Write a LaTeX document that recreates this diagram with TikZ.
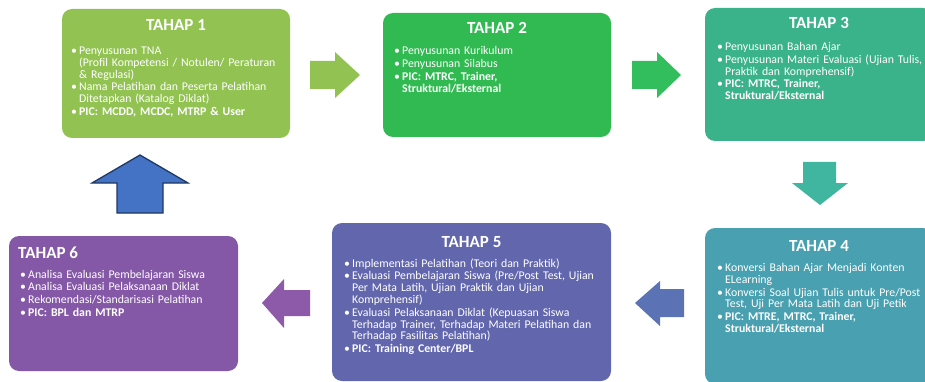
\documentclass[tikz,border=0pt]{standalone}
\usepackage{fontspec}
\setmainfont{Carlito}
\usetikzlibrary{positioning}
\definecolor{tahapA}{RGB}{146,195,82}
\definecolor{tahapB}{RGB}{50,186,82}
\definecolor{tahapC}{RGB}{58,178,138}
\definecolor{tahapD}{RGB}{72,160,176}
\definecolor{tahapE}{RGB}{98,102,172}
\definecolor{tahapF}{RGB}{132,88,166}
\definecolor{panahB}{RGB}{50,190,92}
\definecolor{panahC}{RGB}{64,182,160}
\definecolor{panahD}{RGB}{91,114,180}
\definecolor{panahE}{RGB}{141,90,170}
\definecolor{panahUp}{RGB}{68,114,196}
\definecolor{garisUp}{RGB}{31,56,100}
\newcommand{\itm}{\par\hangindent=8pt\hangafter=1\noindent\makebox[8pt][l]{\textbullet}}

\begin{document}
\begin{tikzpicture}[
    x=1pt, y=-1pt,
    tahap/.style={
        rectangle, rounded corners=10pt, draw=none,
        minimum width=228pt, inner sep=0pt
    },
    judul/.style={
        font=\fontsize{17}{19}\selectfont\bfseries,
        text=white, inner sep=0pt
    },
    isi/.style={
        anchor=north west, inner sep=0pt, text=white,
        text width=234pt, align=left,
        font=\fontsize{11.8}{11.8}\selectfont\setlength{\parskip}{1pt}
    },
]
\useasboundingbox (0,0) rectangle (925,382);
\clip (0,0) rectangle (925,382);

% Baris atas
\node[tahap, fill=tahapA, minimum height=129pt] (t1) at (176,73.5) {};
\node[tahap, fill=tahapB, minimum height=124pt] (t2) at (497,75) {};
\node[tahap, fill=tahapC, minimum height=133pt] (t3) at (819,74.5) {};

% Baris bawah
\node[tahap, fill=tahapD, minimum height=156pt] (t4) at (819,306) {};
\node[tahap, fill=tahapE, minimum width=279pt, minimum height=158pt] (t5) at (471.5,302) {};
\node[tahap, fill=tahapF, minimum width=229pt, minimum height=135pt] (t6) at (123.5,303.5) {};

% Judul
\node[judul] (j1) at ([yshift=-16pt]t1.north) {TAHAP 1};
\node[judul] (j2) at ([yshift=-15pt]t2.north) {TAHAP 2};
\node[judul] (j3) at ([yshift=-15pt]t3.north) {TAHAP 3};
\node[judul] (j4) at ([yshift=-18pt]t4.north) {TAHAP 4};
\node[judul] (j5) at ([yshift=-19pt]t5.north) {TAHAP 5};
\node[judul, anchor=west] (j6) at (18,253) {TAHAP 6};

% Isi
\node[isi] (i1) at (71,41.5) {%
  \itm Penyusunan TNA\newline(Profil Kompetensi / Notulen/ Peraturan\newline\& Regulasi)
  \itm Nama Pelatihan dan Peserta Pelatihan\newline Ditetapkan (Katalog Diklat)
  \itm \textbf{PIC: MCDD, MCDC, MTRP \& User}\par};
\node[isi] (i2) at (394,42) {%
  \itm Penyusunan Kurikulum
  \itm Penyusunan Silabus
  \itm \textbf{PIC: MTRC, Trainer,\newline Struktural/Eksternal}\par};
\node[isi] (i3) at (717,37.5) {%
  \itm Penyusunan Bahan Ajar
  \itm Penyusunan Materi Evaluasi (Ujian Tulis,\newline Praktik dan Komprehensif)
  \itm \textbf{PIC: MTRC, Trainer,\newline Struktural/Eksternal}\par};
\node[isi] (i4) at (717,258.5) {%
  \itm Konversi Bahan Ajar Menjadi Konten\newline ELearning
  \itm Konversi Soal Ujian Tulis untuk Pre/Post\newline Test, Uji Per Mata Latih dan Uji Petik
  \itm \textbf{PIC: MTRE, MTRC, Trainer,\newline Struktural/Eksternal}\par};
\node[isi, text width=272pt] (i5) at (344,254) {%
  \itm Implementasi Pelatihan (Teori dan Praktik)
  \itm Evaluasi Pembelajaran Siswa (Pre/Post Test, Ujian\newline Per Mata Latih, Ujian Praktik dan Ujian\newline Komprehensif)
  \itm Evaluasi Pelaksanaan Diklat (Kepuasan Siswa\newline Terhadap Trainer, Terhadap Materi Pelatihan dan\newline Terhadap Fasilitas Pelatihan)
  \itm \textbf{PIC: Training Center/BPL}\par};
\node[isi] (i6) at (20,265) {%
  \itm Analisa Evaluasi Pembelajaran Siswa
  \itm Analisa Evaluasi Pelaksanaan Diklat
  \itm Rekomendasi/Standarisasi Pelatihan
  \itm \textbf{PIC: BPL dan MTRP}\par};

% Panah
\fill[tahapA] (310,61) -- (335,61) -- (335,52) -- (360,75) -- (335,98) -- (335,89) -- (310,89) -- cycle;
\fill[panahB] (632,61) -- (657,61) -- (657,52) -- (681,75) -- (657,98) -- (657,89) -- (632,89) -- cycle;
\fill[panahC] (803,162) -- (836,162) -- (836,183) -- (848,183) -- (820,205) -- (792,183) -- (803,183) -- cycle;
\fill[panahD] (684,289) -- (660,289) -- (660,281) -- (635,303) -- (660,326) -- (660,317) -- (684,317) -- cycle;
\fill[panahE] (310,290) -- (284,290) -- (284,279) -- (262,303) -- (284,328) -- (284,316) -- (310,316) -- cycle;
\filldraw[fill=panahUp, draw=garisUp, line width=1.3pt, line join=miter]
    (117,213) -- (117,183) -- (92,183) -- (140,155) -- (188,183) -- (163,183) -- (163,213) -- cycle;

\end{tikzpicture}
\end{document}
